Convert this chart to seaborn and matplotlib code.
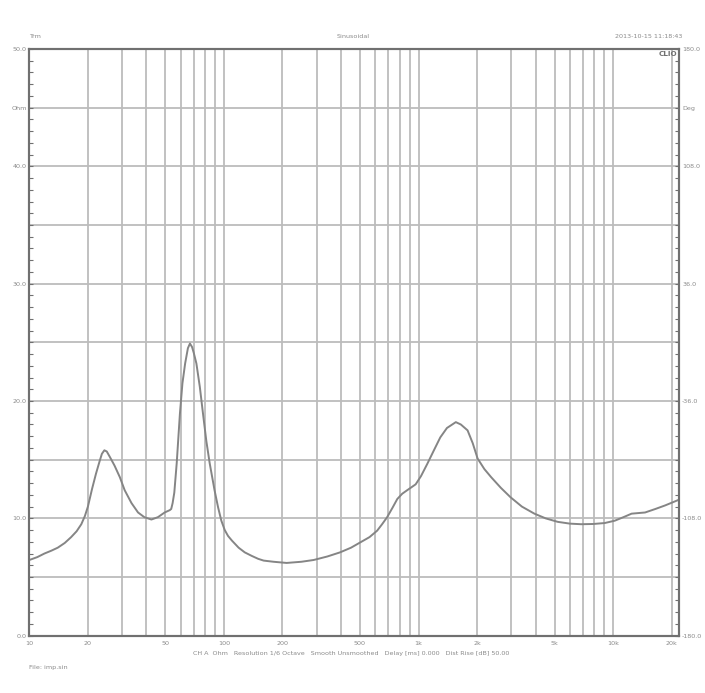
import numpy as np
import pandas as pd
import matplotlib
matplotlib.use("Agg")
import matplotlib.pyplot as plt
import seaborn as sns

# impedance curve (Hz, Ohm)
freq_hz = [10, 11, 11.95, 13, 14, 15.2, 16.4, 17.5, 18.5, 19.3, 20.0, 21.0, 22.0,
           23.0, 23.6, 24.3, 25.0, 26.0, 27.4, 29.2, 30.9, 33.5, 36.2, 39.0, 42.4,
           45.8, 49.6, 52.7, 53.6, 54.5, 55.6, 57.2, 59.4, 61.2, 63.2, 65.3, 66.9,
           68.6, 70.0, 72.2, 75.2, 78.1, 81.2, 84.5, 89.5, 93.3, 97, 101, 105, 110,
           119, 128, 139, 150, 160, 180, 210, 250, 289, 340, 395, 450, 502, 560, 613,
           650, 690, 735, 778, 825, 875, 920, 967, 1030, 1110, 1200, 1294, 1400, 1555,
           1650, 1787, 1900, 2012, 2180, 2365, 2650, 2970, 3400, 3940, 4500, 5200,
           6000, 6850, 7900, 9050, 10200, 11300, 12450, 14600, 16500, 18500, 21900]
impedance_ohm = [6.45, 6.7, 7.0, 7.25, 7.5, 7.9, 8.4, 8.9, 9.5, 10.2, 11.0, 12.5, 13.8,
                 14.9, 15.5, 15.8, 15.7, 15.2, 14.5, 13.5, 12.4, 11.3, 10.5, 10.1, 9.9,
                 10.1, 10.5, 10.7, 10.8, 11.3, 12.2, 14.7, 18.9, 21.5, 23.2, 24.5, 24.9,
                 24.6, 24.1, 23.2, 21.2, 18.9, 16.6, 14.7, 12.4, 10.95, 9.8, 9.0, 8.5, 8.1,
                 7.5, 7.1, 6.8, 6.55, 6.4, 6.3, 6.2, 6.3, 6.45, 6.75, 7.1, 7.5, 7.95, 8.4, 8.95,
                 9.5, 10.1, 10.9, 11.65, 12.1, 12.4, 12.65, 12.9, 13.6, 14.65, 15.8, 16.9, 17.7, 18.2,
                 18.0, 17.5, 16.4, 15.1, 14.2, 13.5, 12.6, 11.8, 11.0, 10.4, 10.0, 9.7,
                 9.55, 9.5, 9.52, 9.6, 9.8, 10.1, 10.4, 10.5, 10.8, 11.1, 11.6]

x_tick_values = [10, 20, 50, 100, 200, 500, 1000, 2000, 5000, 10000, 20000]
x_tick_labels = ["10", "20", "50", "100", "200", "500", "1k", "2k", "5k", "10k", "20k"]
left_tick_values = [0, 10, 20, 30, 40, 45, 50]
left_tick_labels = ["0.0", "10.0", "20.0", "30.0", "40.0", "Ohm", "50.0"]
right_tick_values = [-180, -108, -36, 36, 108, 144, 180]
right_tick_labels = ["-180.0", "-108.0", "-36.0", "36.0", "108.0", "Deg", "180.0"]

df = pd.DataFrame({"freq": freq_hz, "ohm": impedance_ohm})

sns.set_style("white")
plt.rcParams["font.family"] = ["DejaVu Sans"]

TXT = "#8a8a8a"
GRID = "#bcbcbc"
SPINE = "#707070"
FS = 4.6

fig = plt.figure(figsize=(7.05, 6.93), dpi=100)
ax = fig.add_axes([0.0416, 0.0827, 0.922, 0.8466])

# log grid: every step from 10 Hz to 20 kHz
grid_f = [m * d for d in (10, 100, 1000, 10000) for m in range(1, 10) if m * d <= 20000]
for f in grid_f:
    ax.axvline(f, color=GRID, lw=1.3, zorder=0)
for v in range(5, 50, 5):
    ax.axhline(v, color=GRID, lw=1.3, zorder=0)

sns.lineplot(data=df, x="freq", y="ohm", ax=ax, color="#858585", lw=1.4, zorder=3)

ax.set_xscale("log")
ax.set_xlim(10, 21900)
ax.set_ylim(0, 50)
ax.set_xlabel("")
ax.set_ylabel("")

ax.set_xticks(x_tick_values)
ax.set_xticklabels(x_tick_labels)
ax.xaxis.set_minor_locator(matplotlib.ticker.NullLocator())
ax.tick_params(axis="x", length=0, pad=4, labelsize=FS, colors=TXT)

ax.set_yticks(left_tick_values)
ax.set_yticklabels(left_tick_labels)
ax.set_yticks(np.arange(0, 51, 1), minor=True)
ax.tick_params(axis="y", which="both", direction="in", length=3, width=0.8,
               color=SPINE, labelsize=FS, labelcolor=TXT, pad=2)

ax2 = ax.twinx()
ax2.set_ylim(-180, 180)
ax2.set_yticks(right_tick_values)
ax2.set_yticklabels(right_tick_labels)
ax2.set_yticks(np.arange(-180, 180.1, 7.2), minor=True)
ax2.tick_params(axis="y", which="both", direction="in", length=3, width=0.8,
                color=SPINE, labelsize=FS, labelcolor=TXT, pad=2)
ax2.grid(False)

for a in (ax, ax2):
    for s in a.spines.values():
        s.set_color(SPINE)
        s.set_linewidth(1.5)

# header / footer texts
fig.text(29 / 705, 1 - 37 / 693, "Trm", fontsize=FS, color=TXT, ha="left", va="center")
fig.text(353 / 705, 1 - 37 / 693, "Sinusoidal", fontsize=FS, color=TXT, ha="center", va="center")
fig.text(682 / 705, 1 - 37 / 693, "2013-10-15 11:18:43", fontsize=FS, color=TXT,
         ha="right", va="center")
fig.text(677 / 705, 1 - 54 / 693, "CLIO", fontsize=FS + 0.6, color="#707070",
         ha="right", va="center", fontweight="bold")
fig.text(351 / 705, 1 - 654 / 693,
         "CH A  Ohm   Resolution 1/6 Octave   Smooth Unsmoothed   Delay [ms] 0.000   Dist Rise [dB] 50.00",
         fontsize=FS, color=TXT, ha="center", va="center")
fig.text(29 / 705, 1 - 668 / 693, "File: imp.sin", fontsize=FS, color=TXT, ha="left", va="center")

fig.savefig("out.png", dpi=100, facecolor="white")
